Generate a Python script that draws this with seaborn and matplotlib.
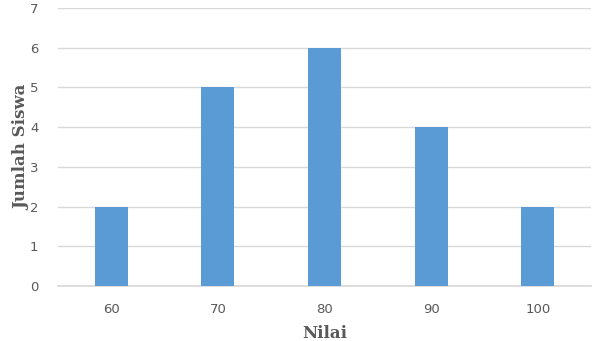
import matplotlib
matplotlib.use("Agg")
import matplotlib.pyplot as plt
import seaborn as sns
import pandas as pd

categories = ["60", "70", "80", "90", "100"]
values = [2, 5, 6, 4, 2]
y_ticks = [0, 1, 2, 3, 4, 5, 6, 7]

sns.set_theme(style="white")
plt.rcParams['font.family'] = ['DejaVu Sans']

df = pd.DataFrame({"Nilai": categories, "Jumlah Siswa": values})

fig = plt.figure(figsize=(6, 3.41), dpi=100)
ax = fig.add_axes([58 / 600, 55 / 341, 533 / 600, 278 / 341])
sns.barplot(data=df, x="Nilai", y="Jumlah Siswa", color="#5B9BD5", saturation=1,
            width=0.31, linewidth=0, ax=ax, zorder=3)
ax.set_ylim(0, 7)
ax.set_yticks(y_ticks)
ax.set_xlim(-0.5, 4.5)
ax.grid(axis="y", color="#d9d9d9", linewidth=1, zorder=0)
for s in ["top", "right", "left"]:
    ax.spines[s].set_visible(False)
ax.spines["bottom"].set_color("#d9d9d9")
ax.tick_params(axis="both", length=0, labelsize=9.5, labelcolor="#595959")
ax.tick_params(axis="x", pad=12)
ax.tick_params(axis="y", pad=14)
ax.set_xlabel("Nilai", fontsize=12, fontweight="bold", color="#595959",
              family="DejaVu Serif")
ax.set_ylabel("Jumlah Siswa", fontsize=12, fontweight="bold", color="#595959",
              family="DejaVu Serif")
ax.yaxis.set_label_coords(-28 / 533, 0.5)
ax.xaxis.set_label_coords(0.5, -39 / 278)
fig.savefig("out.png", dpi=100)
